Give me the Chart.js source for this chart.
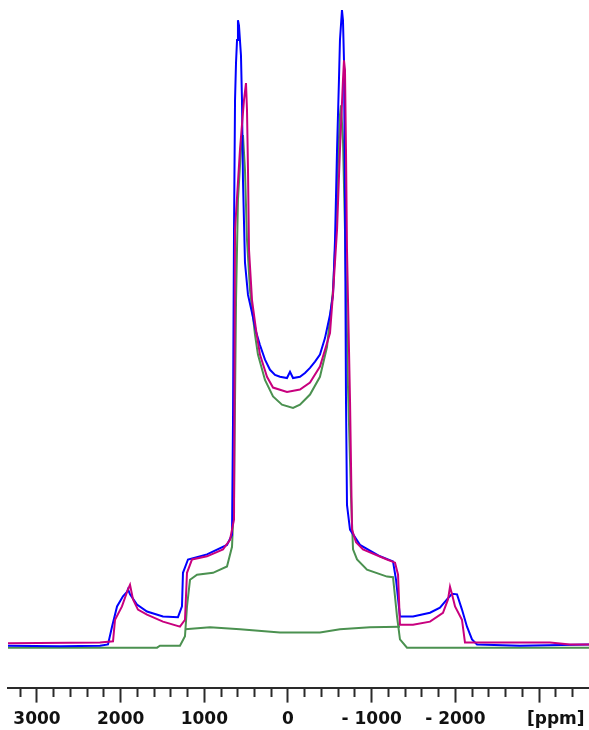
<!DOCTYPE html>
<html lang="en">
<head>
  <meta charset="UTF-8">
  <title>2H NMR powder spectra</title>
  <script src="https://cdn.jsdelivr.net/npm/chart.js"></script>
  <style>
    body { margin: 0; background: #fff; }
    #wrap { width: 589px; height: 730px; }
  </style>
</head>
<body>
  <div id="wrap"><canvas id="spectrum"></canvas></div>

  <script>
    // chemical shift (ppm) and intensity (% of max) for each trace
    const blueShift = [3346, 2725, 2247, 2151, 2103, 2043, 1972, 1924, 1912, 1888, 1805, 1685, 1494, 1315, 1267, 1255, 1195, 968, 729, 669, 657, 645, 633, 621, 609, 598, 586, 562, 550, 538, 514, 478, 430, 382, 335, 275, 215, 155, 96, 12, -24, -60, -143, -203, -263, -323, -382, -442, -502, -538, -562, -586, -609, -621, -645, -657, -669, -681, -693, -705, -741, -860, -1099, -1255, -1291, -1338, -1494, -1697, -1816, -1900, -1960, -2020, -2079, -2139, -2199, -2259, -2772, -3597];
    const blueInt   = [-0.2, -0.3, -0.2, 0, 2.8, 6.0, 7.6, 8.3, 8.7, 7.9, 6.3, 5.2, 4.4, 4.3, 6.0, 11.3, 13.4, 14.2, 15.7, 17.3, 35.4, 65.4, 85.8, 91.8, 95.3, 98.4, 97.6, 92.9, 85.8, 73.2, 60.2, 55.1, 52.3, 49.3, 47.2, 44.9, 43.3, 42.5, 42.2, 42.0, 43.0, 42.0, 42.2, 42.8, 43.6, 44.6, 45.7, 48.3, 52.0, 55.1, 63.8, 78.0, 89.0, 95.3, 100, 98.4, 92.1, 70.1, 38.6, 22.0, 18.1, 15.7, 13.9, 13.1, 10.2, 4.4, 4.4, 5.0, 5.8, 7.1, 8.0, 7.9, 5.5, 2.8, 0.8, 0, -0.2, 0];

    const pinkShift = [3346, 2247, 2091, 2067, 1984, 1912, 1888, 1852, 1793, 1685, 1494, 1291, 1231, 1207, 1147, 968, 777, 693, 645, 633, 574, 526, 502, 490, 478, 466, 430, 382, 335, 251, 179, 12, -143, -263, -382, -502, -538, -586, -621, -657, -669, -681, -693, -705, -741, -765, -813, -896, -1183, -1279, -1315, -1338, -1494, -1697, -1852, -1912, -1936, -1960, -1996, -2079, -2115, -3131, -3370, -3597];
    const pinkInt   = [0.2, 0.3, 0.5, 3.9, 6.0, 8.7, 9.4, 7.1, 5.5, 4.7, 3.6, 2.8, 3.9, 11.3, 13.4, 13.9, 15.0, 16.5, 19.7, 65.4, 78.0, 85.8, 88.5, 84.3, 74.8, 62.2, 54.3, 49.6, 45.7, 42.2, 40.5, 39.8, 40.2, 41.3, 43.8, 49.1, 55.4, 65.4, 78.0, 89.0, 92.1, 90.6, 78.0, 62.2, 38.6, 18.1, 16.1, 15.0, 13.4, 12.9, 11.0, 3.1, 3.1, 3.6, 5.0, 7.1, 9.1, 7.9, 6.0, 3.9, 0.3, 0.3, 0, 0];

    const greenShift = [3346, 1565, 1530, 1291, 1231, 1207, 1171, 1087, 896, 729, 669, 645, 621, 598, 562, 538, 514, 490, 454, 394, 359, 275, 179, 72, -60, -143, -263, -382, -466, -538, -574, -598, -621, -633, -657, -681, -717, -753, -777, -825, -944, -1183, -1255, -1303, -1338, -1422, -3597];
    const greenInt   = [-0.5, -0.5, -0.2, -0.2, 1.3, 6.0, 10.2, 11.0, 11.3, 12.3, 15.4, 22.8, 54.3, 70.1, 78.0, 80.3, 74.8, 63.8, 55.9, 48.8, 45.7, 41.7, 39.1, 37.8, 37.3, 37.8, 39.4, 42.2, 46.9, 55.9, 65.4, 76.4, 83.5, 85.0, 79.5, 65.4, 40.6, 23.3, 15.0, 13.4, 11.8, 10.7, 10.6, 4.4, 0.8, -0.5, -0.5];

    // narrow residual line under the green pattern
    const greenLowShift = [1231, 932, 574, 96, -382, -621, -980, -1338];
    const greenLowInt   = [2.4, 2.7, 2.4, 1.9, 1.9, 2.4, 2.7, 2.8];

    // axis ticks: every 200 ppm, labelled every 1000, unit shown at -3200
    const tickValues = [];
    for (let v = 3200; v >= -3400; v -= 200) tickValues.push(v);
    const labelledTicks = [3000, 2000, 1000, 0, -1000, -2000];
    const unitTick = -3200;

    const pts = (xs, ys) => xs.map((x, i) => ({ x: x, y: ys[i] }));

    function trace(data, color) {
      return {
        data: data,
        borderColor: color,
        borderWidth: 2,
        pointRadius: 0,
        tension: 0,
        fill: false
      };
    }

    const ctx = document.getElementById('spectrum').getContext('2d');
    new Chart(ctx, {
      type: 'line',
      data: {
        datasets: [
          trace(pts(pinkShift, pinkInt), '#c8007e'),
          trace(pts(blueShift, blueInt), '#0000ff'),
          trace(pts(greenShift, greenInt), '#4b9150'),
          trace(pts(greenLowShift, greenLowInt), '#4b9150')
        ]
      },
      options: {
        responsive: true,
        maintainAspectRatio: false,
        animation: false,
        layout: { padding: { left: 8, right: 0, top: 0, bottom: -7 } },
        plugins: { legend: { display: false }, tooltip: { enabled: false } },
        scales: {
          x: {
            type: 'linear',
            reverse: true,
            min: -3597,
            max: 3346,
            afterBuildTicks: axis => {
              axis.ticks = tickValues.map(v => ({ value: v }));
            },
            border: { display: true, color: '#2a2a2a', width: 2 },
            grid: {
              display: true,
              drawOnChartArea: false,
              drawTicks: true,
              tickLength: 15,
              tickWidth: 2,
              tickColor: '#2a2a2a',
              tickBorderDash: c => (c.tick && c.tick.value % 1000 === 0) ? [] : [8, 40]
            },
            ticks: {
              autoSkip: false,
              maxRotation: 0,
              padding: 7,
              color: '#111',
              font: { family: 'DejaVu Sans', size: 17, weight: 'bold' },
              callback: v => {
                if (v === unitTick) return '[ppm]';
                if (!labelledTicks.includes(v)) return '';
                return v < 0 ? '- ' + Math.abs(v) : String(v);
              }
            }
          },
          y: {
            display: false,
            min: -6.8,
            max: 101.6
          }
        }
      }
    });
  </script>
</body>
</html>
